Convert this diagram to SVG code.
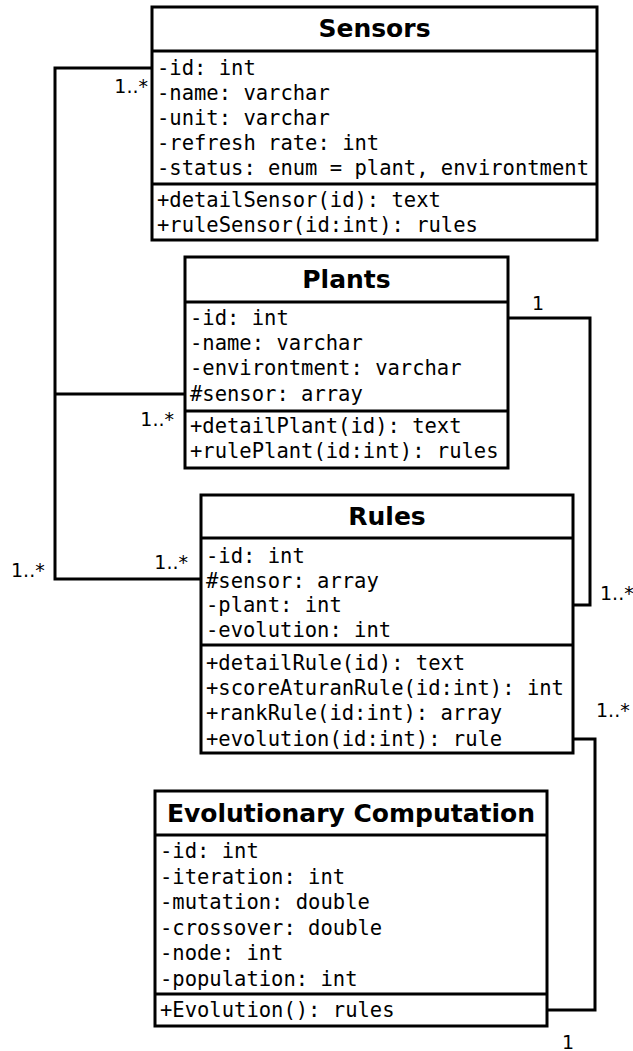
<svg xmlns="http://www.w3.org/2000/svg" width="633" height="1051" viewBox="0 0 633 1051">
<style>
.box{fill:#fff;stroke:#000;stroke-width:3}
.div{stroke:#000;stroke-width:3}
.title{font-family:"DejaVu Sans",sans-serif;font-weight:bold;font-size:25px;text-anchor:middle;fill:#000}
.m{font-family:"DejaVu Sans Mono",monospace;font-size:20.5px;fill:#000}
.lbl{font-family:"DejaVu Sans",sans-serif;font-size:19px;fill:#000}
.end{text-anchor:end}
.con{fill:none;stroke:#000;stroke-width:3}
</style>
<rect width="633" height="1051" fill="#fff"/>
<g id="connectors">
<polyline class="con" points="152,68 55,68 55,579 201,579"/>
<line class="con" x1="55" y1="394" x2="185" y2="394"/>
<polyline class="con" points="508,318 590,318 590,605 573,605"/>
<polyline class="con" points="573,739 595,739 595,1010 547,1010"/>
<text class="lbl end" x="148" y="93">1..*</text>
<text class="lbl end" x="174" y="426">1..*</text>
<text class="lbl" x="11" y="577">1..*</text>
<text class="lbl end" x="188" y="569">1..*</text>
<text class="lbl" x="532" y="310">1</text>
<text class="lbl" x="600" y="600">1..*</text>
<text class="lbl" x="596" y="717">1..*</text>
<text class="lbl" x="562" y="1049">1</text>
</g>
<g id="sensors">
<rect class="box" x="152" y="7" width="445" height="233"/>
<line class="div" x1="152" y1="51" x2="597" y2="51"/>
<line class="div" x1="152" y1="184" x2="597" y2="184"/>
<text class="title" x="374.5" y="37">Sensors</text>
<text class="m" x="157" y="75">-id: int</text>
<text class="m" x="157" y="100">-name: varchar</text>
<text class="m" x="157" y="125">-unit: varchar</text>
<text class="m" x="157" y="150">-refresh rate: int</text>
<text class="m" x="157" y="175">-status: enum = plant, environtment</text>
<text class="m" x="157" y="207">+detailSensor(id): text</text>
<text class="m" x="157" y="232">+ruleSensor(id:int): rules</text>
</g>
<g id="plants">
<rect class="box" x="185" y="257" width="323" height="211"/>
<line class="div" x1="185" y1="302" x2="508" y2="302"/>
<line class="div" x1="185" y1="411" x2="508" y2="411"/>
<text class="title" x="346.5" y="288">Plants</text>
<text class="m" x="190" y="325">-id: int</text>
<text class="m" x="190" y="350">-name: varchar</text>
<text class="m" x="190" y="375">-environtment: varchar</text>
<text class="m" x="190" y="401">#sensor: array</text>
<text class="m" x="190" y="433">+detailPlant(id): text</text>
<text class="m" x="190" y="458">+rulePlant(id:int): rules</text>
</g>
<g id="rules">
<rect class="box" x="201" y="495" width="372" height="258"/>
<line class="div" x1="201" y1="538" x2="573" y2="538"/>
<line class="div" x1="201" y1="645" x2="573" y2="645"/>
<text class="title" x="387" y="525">Rules</text>
<text class="m" x="206" y="563">-id: int</text>
<text class="m" x="206" y="588">#sensor: array</text>
<text class="m" x="206" y="612">-plant: int</text>
<text class="m" x="206" y="637">-evolution: int</text>
<text class="m" x="206" y="670">+detailRule(id): text</text>
<text class="m" x="206" y="695">+scoreAturanRule(id:int): int</text>
<text class="m" x="206" y="720">+rankRule(id:int): array</text>
<text class="m" x="206" y="746">+evolution(id:int): rule</text>
</g>
<g id="evolutionary-computation">
<rect class="box" x="155" y="791" width="392" height="235"/>
<line class="div" x1="155" y1="835" x2="547" y2="835"/>
<line class="div" x1="155" y1="994" x2="547" y2="994"/>
<text class="title" x="351" y="822">Evolutionary Computation</text>
<text class="m" x="160" y="858">-id: int</text>
<text class="m" x="160" y="884">-iteration: int</text>
<text class="m" x="160" y="909">-mutation: double</text>
<text class="m" x="160" y="935">-crossover: double</text>
<text class="m" x="160" y="960">-node: int</text>
<text class="m" x="160" y="986">-population: int</text>
<text class="m" x="160" y="1017">+Evolution(): rules</text>
</g>
</svg>
